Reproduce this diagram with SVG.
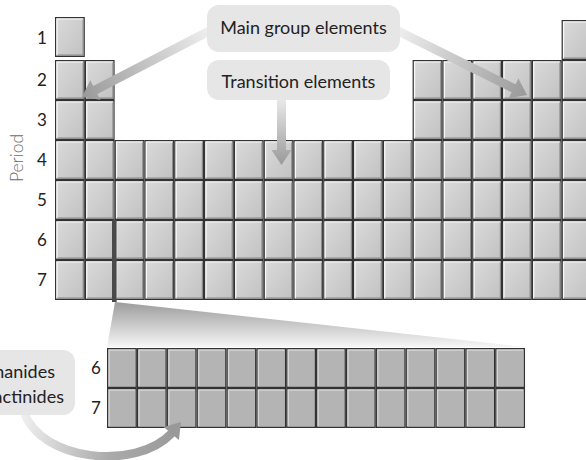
<svg xmlns="http://www.w3.org/2000/svg" xmlns:xlink="http://www.w3.org/1999/xlink" width="586" height="460" viewBox="0 0 586 460">
<style>
.lbl{font-family:Lato,"Open Sans","Liberation Sans",sans-serif;font-size:18px;fill:#222}
.num{font-family:Lato,"Open Sans","Liberation Sans",sans-serif;font-size:17px;fill:#222;text-anchor:middle}
.box{fill:#e6e6e6}
</style>
<defs>
<linearGradient id="gc" x1="0" y1="0" x2="1" y2="1">
<stop offset="0" stop-color="#dadada"/><stop offset="1" stop-color="#c2c2c2"/>
</linearGradient>
<linearGradient id="gw" x1="0" y1="302" x2="0" y2="347" gradientUnits="userSpaceOnUse">
<stop offset="0" stop-color="#9c9c9c"/><stop offset="1" stop-color="#f6f6f6"/>
</linearGradient>
<linearGradient id="ga1" x1="215" y1="28" x2="82" y2="97" gradientUnits="userSpaceOnUse">
<stop offset="0" stop-color="#f2f2f2"/><stop offset="1" stop-color="#999"/>
</linearGradient>
<linearGradient id="ga2" x1="392" y1="28" x2="527" y2="95" gradientUnits="userSpaceOnUse">
<stop offset="0" stop-color="#f2f2f2"/><stop offset="1" stop-color="#999"/>
</linearGradient>
<linearGradient id="ga3" x1="0" y1="100" x2="0" y2="165" gradientUnits="userSpaceOnUse">
<stop offset="0" stop-color="#e8e8e8"/><stop offset="1" stop-color="#999"/>
</linearGradient>
<linearGradient id="ga4" x1="20" y1="410" x2="180" y2="440" gradientUnits="userSpaceOnUse">
<stop offset="0" stop-color="#f2f2f2"/><stop offset="0.6" stop-color="#aaa"/><stop offset="1" stop-color="#999"/>
</linearGradient>
<g id="c">
<rect width="29.8" height="40" fill="#333"/>
<rect x="1.2" y="1.2" width="27.4" height="37.6" fill="url(#gc)"/>
<path d="M2 38V2H28" fill="none" stroke="#f8f8f8" stroke-width="1.2"/>
<path d="M2.4 38.2H28.2V2.4" fill="none" stroke="#8a8a8a" stroke-width="1.2"/>
</g>
<g id="f">
<rect width="29.86" height="40" fill="#333"/>
<rect x="1.2" y="1.2" width="27.46" height="37.6" fill="#b4b4b4"/>
<path d="M2.2 38V2.2H28" fill="none" stroke="#d6d6d6" stroke-width="1.2"/>
</g>
</defs>
<rect width="586" height="460" fill="#fff"/>

<polygon id="wedge" points="115,302 525,347 107,347" fill="url(#gw)"/>

<g id="table-main">
<use href="#c" x="55" y="17"/>
<use href="#c" x="561.6" y="20"/>
<g id="rows-2-3">
<use href="#c" x="55" y="60"/><use href="#c" x="84.8" y="60"/>
<use href="#c" x="412.6" y="60"/><use href="#c" x="442.4" y="60"/><use href="#c" x="472.2" y="60"/><use href="#c" x="502" y="60"/><use href="#c" x="531.8" y="60"/><use href="#c" x="561.6" y="60"/>
<use href="#c" x="55" y="100"/><use href="#c" x="84.8" y="100"/>
<use href="#c" x="412.6" y="100"/><use href="#c" x="442.4" y="100"/><use href="#c" x="472.2" y="100"/><use href="#c" x="502" y="100"/><use href="#c" x="531.8" y="100"/><use href="#c" x="561.6" y="100"/>
</g>
<g id="row4">
<use href="#c" x="55" y="140"/><use href="#c" x="84.8" y="140"/><use href="#c" x="114.6" y="140"/><use href="#c" x="144.4" y="140"/><use href="#c" x="174.2" y="140"/><use href="#c" x="204" y="140"/><use href="#c" x="233.8" y="140"/><use href="#c" x="263.6" y="140"/><use href="#c" x="293.4" y="140"/><use href="#c" x="323.2" y="140"/><use href="#c" x="353" y="140"/><use href="#c" x="382.8" y="140"/><use href="#c" x="412.6" y="140"/><use href="#c" x="442.4" y="140"/><use href="#c" x="472.2" y="140"/><use href="#c" x="502" y="140"/><use href="#c" x="531.8" y="140"/><use href="#c" x="561.6" y="140"/>
</g>
<use href="#row4" y="40"/>
<use href="#row4" y="80"/>
<use href="#row4" y="120"/>
<rect x="112" y="220" width="4.6" height="82" fill="#4a4a4a"/>
</g>

<g id="table-fblock">
<g id="frow">
<use href="#f" x="107" y="348"/><use href="#f" x="136.86" y="348"/><use href="#f" x="166.72" y="348"/><use href="#f" x="196.58" y="348"/><use href="#f" x="226.44" y="348"/><use href="#f" x="256.3" y="348"/><use href="#f" x="286.16" y="348"/><use href="#f" x="316.02" y="348"/><use href="#f" x="345.88" y="348"/><use href="#f" x="375.74" y="348"/><use href="#f" x="405.6" y="348"/><use href="#f" x="435.46" y="348"/><use href="#f" x="465.32" y="348"/><use href="#f" x="495.18" y="348"/>
</g>
<use href="#frow" y="40"/>
</g>

<g id="period-labels">
<text class="num" x="42" y="44">1</text>
<text class="num" x="42" y="86">2</text>
<text class="num" x="42" y="126">3</text>
<text class="num" x="42" y="166">4</text>
<text class="num" x="42" y="206">5</text>
<text class="num" x="42" y="246">6</text>
<text class="num" x="42" y="286">7</text>
<text class="num" x="96" y="374">6</text>
<text class="num" x="96" y="414">7</text>
<text x="23" y="158" transform="rotate(-90 23 158)" text-anchor="middle" style="font-family:Lato,'Open Sans','Liberation Sans',sans-serif;font-size:17.5px;fill:#6a6a6a;font-weight:300">Period</text>
</g>

<g id="connectors">
<polygon points="212.93,24 93.25,86.08 90.25,80.31 82,97 100.39,99.85 97.39,94.08 217.07,32" fill="url(#ga1)"/>
<polygon points="394,23.97 515.56,84.3 518.45,78.47 527,95 508.67,98.19 511.56,92.36 390,32.03" fill="url(#ga2)"/>
<polygon points="277,98 286,98 286,150 291.5,150 281.5,165 271.5,150 277,150" fill="url(#ga3)"/>
<path d="M24 412C40 460 135 472 172 433" fill="none" stroke="url(#ga4)" stroke-width="8.5"/>
<polygon points="181,422 178.9,440 163.7,426.9" fill="#999"/>
</g>

<g id="label-main">
<rect class="box" x="207" y="5" width="193" height="47" rx="12"/>
<text class="lbl" x="303.5" y="34" text-anchor="middle">Main group elements</text>
</g>
<g id="label-transition">
<rect class="box" x="207" y="60" width="183" height="40" rx="12"/>
<text class="lbl" x="298.5" y="88" text-anchor="middle">Transition elements</text>
</g>
<g id="label-fblock">
<rect class="box" x="-40" y="350" width="115" height="65" rx="12"/>
<text class="lbl" x="55" y="378" text-anchor="end">Lanthanides</text>
<text class="lbl" x="64" y="403" text-anchor="end">and actinides</text>
</g>
</svg>
